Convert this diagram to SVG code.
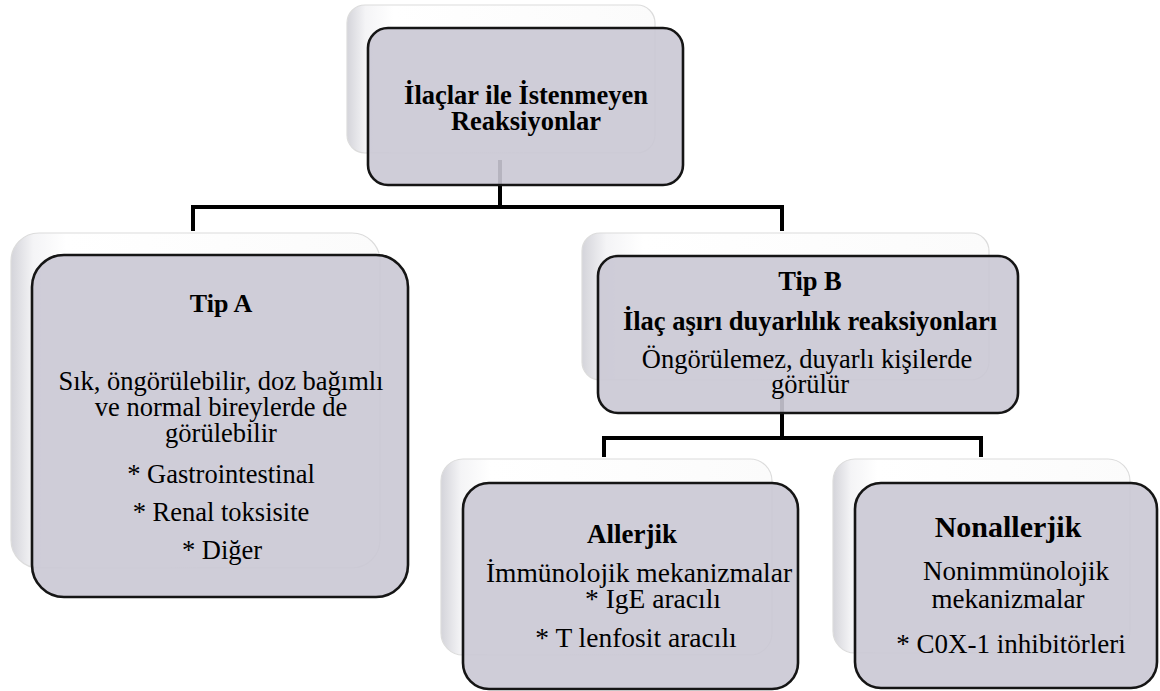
<svg xmlns="http://www.w3.org/2000/svg" width="1160" height="691" viewBox="0 0 1160 691">
<defs>
<linearGradient id="backGrad" x1="0" y1="0" x2="1" y2="0">
<stop offset="0" stop-color="#d4d4da"/>
<stop offset="0.06" stop-color="#f4f4f6"/>
<stop offset="0.15" stop-color="#ffffff"/>
<stop offset="1" stop-color="#fbfbfb"/>
</linearGradient>
<style>
.back{fill:url(#backGrad);stroke:#dcdcdc;stroke-width:1.2}
.front{fill:#cac8d4;fill-opacity:0.9;stroke:#151515;stroke-width:2.6}
.conn{fill:none;stroke:#000;stroke-width:4}
.t{fill:#000;text-anchor:middle}
.b{font-weight:bold}
</style>
</defs>
<rect width="1160" height="691" fill="#ffffff"/>
<g id="backs">
<rect class="back" x="347" y="5" width="308" height="148" rx="18"/>
<rect class="back" x="11" y="233" width="369" height="335" rx="28"/>
<rect class="back" x="582" y="233" width="407" height="147" rx="18"/>
<rect class="back" x="441" y="459" width="331" height="196" rx="22"/>
<rect class="back" x="833" y="459" width="297" height="194" rx="22"/>
</g>
<g id="connectors">
<path class="conn" d="M500,160 V207 M193,207 H782 M193,205 V231 M782,205 V231"/>
<path class="conn" d="M782,395 V438 M604,438 H981 M604,436 V457 M981,436 V457"/>
</g>
<g font-family="'Liberation Serif', 'Times New Roman', serif">
<g id="node-root">
<rect class="front" x="368" y="28" width="315" height="157" rx="20"/>
<text class="t b" font-size="26.5" x="526" y="104">İlaçlar ile İstenmeyen</text>
<text class="t b" font-size="26.5" x="526" y="130">Reaksiyonlar</text>
</g>
<g id="node-tipA">
<rect class="front" x="32" y="255" width="376" height="342" rx="32"/>
<text class="t b" font-size="26" x="221" y="312">Tip A</text>
<text class="t" font-size="26.5" x="221" y="390">Sık, öngörülebilir, doz bağımlı</text>
<text class="t" font-size="26.5" x="221" y="416">ve normal bireylerde de</text>
<text class="t" font-size="26.5" x="221" y="442">görülebilir</text>
<text class="t" font-size="26.5" x="221" y="483">* Gastrointestinal</text>
<text class="t" font-size="26.5" x="221" y="521">* Renal toksisite</text>
<text class="t" font-size="26.5" x="222" y="559">* Diğer</text>
</g>
<g id="node-tipB">
<rect class="front" x="598" y="256" width="420" height="157" rx="20"/>
<text class="t b" font-size="26.5" x="810" y="290">Tip B</text>
<text class="t b" font-size="26.5" x="810" y="330">İlaç aşırı duyarlılık reaksiyonları</text>
<text class="t" font-size="26.5" x="807" y="368">Öngörülemez, duyarlı kişilerde</text>
<text class="t" font-size="26.5" x="810" y="393">görülür</text>
</g>
<g id="node-allerjik">
<rect class="front" x="463" y="483" width="335" height="206" rx="26"/>
<text class="t b" font-size="27" x="632" y="543">Allerjik</text>
<text class="t" font-size="27.5" x="639" y="582">İmmünolojik mekanizmalar</text>
<text class="t" font-size="27.5" x="653" y="608">* IgE aracılı</text>
<text class="t" font-size="27.5" x="636" y="647">* T lenfosit aracılı</text>
</g>
<g id="node-nonallerjik">
<rect class="front" x="855" y="483" width="302" height="205" rx="26"/>
<text class="t b" font-size="30" x="1008" y="537">Nonallerjik</text>
<text class="t" font-size="27" x="1016" y="580">Nonimmünolojik</text>
<text class="t" font-size="27" x="1008" y="608">mekanizmalar</text>
<text class="t" font-size="27" x="1011" y="653">* C0X-1 inhibitörleri</text>
</g>
</g>
</svg>
